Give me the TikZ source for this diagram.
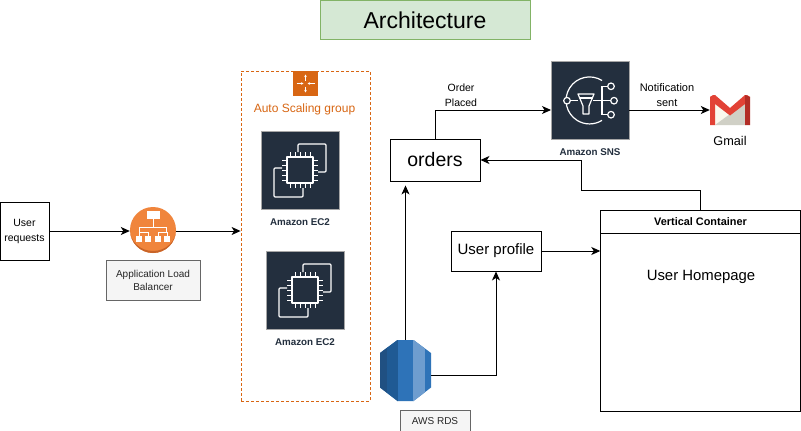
\documentclass[tikz,border=0pt]{standalone}
\usepackage{fontspec}
\setmainfont{Liberation Sans}
\usetikzlibrary{arrows.meta,calc}
\definecolor{awsnavy}{HTML}{232F3E}
\definecolor{asgorange}{HTML}{D86613}
\definecolor{titlefill}{RGB}{213,232,212}
\definecolor{titleline}{RGB}{130,179,102}
\tikzset{
  plainbox/.style={draw=black,fill=white,line width=.9pt,minimum width=#1,inner sep=0pt,align=center},
  iconsq/.style={draw=gray!70,line width=.6pt,fill=awsnavy,minimum width=78pt,minimum height=78pt,inner sep=0pt},
  greybox/.style={draw=black!60,fill=black!4,line width=.7pt,inner sep=0pt,align=center,font=\fontsize{10}{13}\selectfont,text=black!85},
  iconcap/.style={font=\bfseries\fontsize{9.8}{12}\selectfont,text=awsnavy,inner sep=0pt},
  lab/.style={font=\fontsize{10.5}{15}\selectfont,inner sep=0pt,align=center},
  conn/.style={draw=black,line width=.9pt,-{Stealth[length=9pt,width=8pt,inset=2.5pt]}},
  wl/.style={draw=white,line width=1.2pt,line join=round},
}
\newcommand{\ecicon}[1]{%
  \begin{scope}[shift={(#1)}]
    \draw[wl,rounded corners=1pt] (-2,-18) -- (-2,-26) -- (26,-26) -- (26,2) -- (18,2);
    \draw[wl,rounded corners=1pt] (-18,-2) -- (-26,-2) -- (-26,27) -- (3,27) -- (3,18);
    \draw[wl] (-13,-13) rectangle (13,13);
    \foreach \t in {-10,-5,0,5,10}{
      \draw[draw=white,line width=1pt] (\t,-13) -- (\t,-18) (\t,13) -- (\t,18) (-13,\t) -- (-18,\t) (13,\t) -- (18,\t);
    }
  \end{scope}}
\begin{document}
\begin{tikzpicture}[x=1pt,y=-1pt]
\useasboundingbox[fill=white] (0,0) rectangle (801,431);
% title
\node[draw=titleline,fill=titlefill,minimum width=210pt,minimum height=39pt,inner sep=0pt,font=\fontsize{23}{26}\selectfont,line width=.7pt] (title) at (425,20) {\raisebox{-.8pt}{Architecture}};
% boxes
\node[plainbox=49pt,minimum height=58pt,font=\fontsize{10.5}{15}\selectfont] (user) at (24.5,231) {User\\requests};
% ALB
\node[circle,fill={rgb,255:red,240;green,133;blue,60},minimum size=46pt,inner sep=0pt] (alb) at (153,230) {};
\fill[fill={rgb,255:red,200;green,100;blue,40}] (130,230) arc[start angle=180,end angle=0,radius=23] arc[start angle=0,end angle=180,x radius=23,y radius=21] -- cycle;
\begin{scope}[shift={(alb.center)}]
  \draw[white,line width=.8pt] (0,-11) -- (0,-3) (-13.5,2) -- (-13.5,-3) -- (13.5,-3) -- (13.5,2) (-14,6) -- (-14,2) -- (-5,2) -- (-5,6) (14,6) -- (14,2) -- (5,2) -- (5,6);
  \fill[white] (-6.5,-19) rectangle (6.5,-11);
  \foreach \t in {-14,-5,5,14}{\fill[white] (\t-3.4,5.7) rectangle (\t+3.4,12);}
\end{scope}
\node[greybox,minimum width=94pt,minimum height=40pt] (alblab) at (153,280) {Application Load\\Balancer};
% ASG
\node[draw=asgorange,dash pattern=on 3pt off 2pt,line width=.8pt,minimum width=129pt,minimum height=330pt,inner sep=0pt] (asg) at (305.5,236) {};
\node[fill=asgorange,minimum width=25pt,minimum height=25pt,inner sep=0pt] (asgicon) at (305.5,83.5) {};
\begin{scope}[shift={(asgicon.center)}]
  \draw[white,line width=.6pt,-{Stealth[length=2.5pt,width=2.5pt]}] (0,-3) -- (0,-9);
  \draw[white,line width=.6pt,-{Stealth[length=2.5pt,width=2.5pt]}] (0,3) -- (0,9);
  \draw[white,line width=.6pt,-{Stealth[length=2.5pt,width=2.5pt]}] (-9,0) -- (-2,0);
  \draw[white,line width=.6pt,-{Stealth[length=2.5pt,width=2.5pt]}] (9,0) -- (2,0);
\end{scope}
\node[font=\fontsize{12}{14}\selectfont,text=asgorange,inner sep=0pt] (asglab) at (304.5,109) {Auto Scaling group};
\node[iconsq] (ec1) at (300,170) {};
\ecicon{ec1.center}
\node[iconcap] (ec1lab) at (300,222) {Amazon EC2};
\node[iconsq] (ec2) at (305,290) {};
\ecicon{ec2.center}
\node[iconcap] (ec2lab) at (305,342) {Amazon EC2};
% orders etc
\node[plainbox=90pt,minimum height=42pt,font=\fontsize{19.5}{22}\selectfont] (orders) at (435,160) {\raisebox{-1pt}{orders}};
\node[plainbox=90pt,minimum height=40pt,font=\fontsize{15}{18}\selectfont] (profile) at (496,251) {\raisebox{-1pt}{User profile}};
\node[plainbox=199.5pt,minimum height=200.5pt] (cont) at (700.5,310.75) {};
\node[draw=black,line width=.9pt,minimum width=199.5pt,minimum height=22.5pt,inner sep=0pt,font=\bfseries\fontsize{10.9}{13}\selectfont] (conthead) at (700.5,221.75) {Vertical Container};
\node[font=\fontsize{14.9}{18}\selectfont,inner sep=0pt] (home) at (701,277) {User Homepage};
% SNS
\node[iconsq] (sns) at (590,100) {};
\begin{scope}[shift={(sns.center)}]
  \draw[wl] (12,-19.5) arc[start angle=-58,end angle=-302,radius=23.5];
  \draw[wl,fill=awsnavy] (-23,0.7) circle (3.3pt);
  \draw[wl] (-20,0.7) -- (-12,0.7);
  \draw[wl] (-12,-6) -- (4,-6) -- (-1,6) -- (-1,14) -- (-7,14) -- (-7,6) -- cycle;
  \draw[wl] (-10,-2) -- (2.5,-2);
  \draw[wl] (3,0.7) -- (21,0.7) (12,-13.7) -- (12,14.7) (12,-13.7) -- (18,-13.7) (12,14.7) -- (18,14.7);
  \draw[wl,fill=awsnavy] (21,-13.7) circle (3.3pt) (24,0.7) circle (3.3pt) (21,14.7) circle (3.3pt);
\end{scope}
\node[iconcap] (snslab) at (590,152) {Amazon SNS};
% Gmail
\node[minimum width=40pt,minimum height=30pt,inner sep=0pt] (gmail) at (730,110) {};
\begin{scope}[shift={(gmail.center)}]
  \fill[fill={rgb,255:red,250;green,248;blue,238}] (-15,-6) -- (0,4) -- (-15,15) -- cycle;
  \fill[fill={rgb,255:red,208;green,208;blue,198}] (15,-8) -- (15,15) -- (-15,15) -- (0,4) -- cycle;
  \fill[fill={rgb,255:red,226;green,66;blue,54}] (-20,-13) -- (-17,-15) -- (-15,-15) -- (0,-2) -- (15,-15) -- (17,-15) -- (20,-13) -- (15,-6) -- (0,5.5) -- (-15,-6) -- cycle;
  \fill[fill={rgb,255:red,226;green,66;blue,54}] (-20,-13) -- (-15,-15) -- (-15,15) -- (-20,15) -- cycle;
  \fill[fill={rgb,255:red,178;green,45;blue,38}] (20,-13) -- (15,-15) -- (15,15) -- (20,15) -- cycle;
\end{scope}
\node[font=\fontsize{12.7}{15}\selectfont,inner sep=0pt] (gmaillab) at (730,141) {Gmail};
% RDS
\node[minimum width=51pt,minimum height=61pt,inner sep=0pt] (rds) at (405.5,370.5) {};
\begin{scope}[shift={(rds.center)}]
  \clip (-25.5,-17.5) -- (-8,-30.5) -- (8,-30.5) -- (25.5,-17.5) -- (25.5,17) -- (8,30.5) -- (-8,30.5) -- (-25.5,17) -- cycle;
  \fill[fill={rgb,255:red,46;green,115;blue,184}] (-26,-31) rectangle (26,31);
  \fill[fill={rgb,255:red,32;green,80;blue,130}] (-26,-31) rectangle (-18.5,31);
  \fill[fill={rgb,255:red,31;green,90;blue,148}] (-18.5,-31) rectangle (-7.5,31);
  \fill[fill={rgb,255:red,110;green,157;blue,207}] (7.5,-31) rectangle (19.5,31);
\end{scope}
\node[greybox,minimum width=70pt,minimum height=22pt] (rdslab) at (435,421) {AWS RDS};
% connectors
\coordinate (rdsout) at (431,375);
\coordinate (snsin) at (551,110);
\coordinate (bend) at (581,190.5);
\draw[conn] (user.east) -- (alb.west |- user.east);
\draw[conn] (alb.east |- user.east) -- (asg.west |- user.east);
\draw[conn,shorten >=4pt] (rds.north) -- (rds.north |- orders.south);
\draw[conn] (rdsout) -| (profile.south);
\draw[conn] (orders.north) |- (snsin);
\node[lab] (opl) at (461,95) {Order\\Placed};
\draw[conn] (sns.east |- gmail.west) -- (gmail.west);
\node[lab,font=\fontsize{11}{15}\selectfont] (nsl) at (667,95) {Notification\\sent};
\draw[conn] (profile.east) -- (cont.west |- profile.east);
\draw[conn] (conthead.north) |- (bend) |- (orders.east);
\end{tikzpicture}
\end{document}
